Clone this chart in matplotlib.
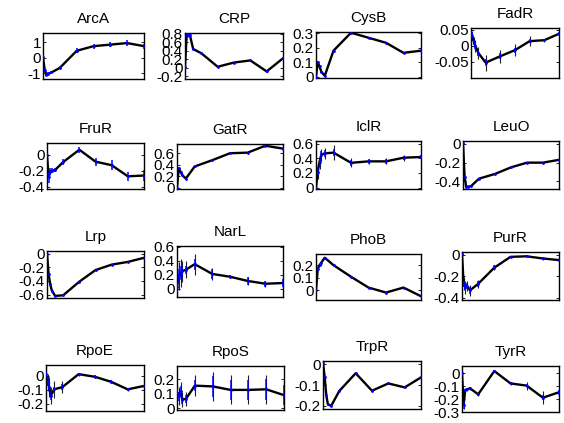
import numpy as np
import matplotlib.pyplot as plt

plt.rcParams['font.family'] = ['Liberation Sans', 'DejaVu Sans']

# time points (minutes)
times = [0, 1, 2, 3, 5, 10, 20, 30, 40, 50, 60]

names = ['ArcA', 'CRP', 'CysB', 'FadR', 'FruR', 'GatR', 'IclR', 'LeuO',
         'Lrp', 'NarL', 'PhoB', 'PurR', 'RpoE', 'RpoS', 'TrpR', 'TyrR']

# mean activity profiles
arcA = [0.05, -0.8, -1.1, -1.05, -0.95, -0.65, 0.45, 0.75, 0.85, 0.95, 0.75]
crp = [0.02, 0.76, 0.78, 0.77, 0.44, 0.34, 0.02, 0.12, 0.17, -0.09, 0.22]
cysB = [0.0, 0.1, 0.07, 0.035, 0.005, 0.18, 0.305, 0.27, 0.235, 0.165, 0.18]
fadR = [0.043, 0.03, 0.012, 0.0, -0.022, -0.052, -0.032, -0.013, 0.015, 0.018, 0.038]
fruR = [0.0, -0.28, -0.21, -0.2, -0.19, -0.09, 0.065, -0.085, -0.13, -0.27, -0.26]
gatR = [0.0, 0.34, 0.28, 0.22, 0.16, 0.37, 0.48, 0.6, 0.61, 0.73, 0.68]
iclR = [0.0, 0.22, 0.35, 0.45, 0.47, 0.48, 0.34, 0.36, 0.36, 0.41, 0.42]
leuO = [0.01, -0.35, -0.46, -0.455, -0.45, -0.37, -0.32, -0.25, -0.2, -0.2, -0.17]
lrp = [0.0, -0.3, -0.45, -0.54, -0.62, -0.61, -0.41, -0.24, -0.16, -0.12, -0.06]
narL = [0.02, 0.18, 0.22, 0.25, 0.27, 0.35, 0.21, 0.17, 0.11, 0.07, 0.08]
phoB = [0.0, 0.17, 0.2, 0.22, 0.26, 0.2, 0.107, 0.02, -0.02, 0.02, -0.05]
purR = [0.01, -0.27, -0.3, -0.29, -0.33, -0.27, -0.12, -0.02, -0.015, -0.035, -0.05]
rpoE = [0.01, -0.045, -0.08, -0.14, -0.096, -0.08, 0.012, -0.007, -0.043, -0.096, -0.072]
rpoS = [0.107, 0.083, 0.12, 0.06, 0.064, 0.155, 0.15, 0.126, 0.126, 0.13, 0.09]
trpR = [0.008, -0.06, -0.148, -0.193, -0.2, -0.128, -0.043, -0.127, -0.092, -0.111, -0.063]
tyrR = [0.0, -0.245, -0.13, -0.125, -0.118, -0.164, 0.015, -0.08, -0.097, -0.19, -0.148]

# inner (blue) error bars
arcA_err = [0.1, 0.15, 0.1, 0.1, 0.1, 0.1, 0.15, 0.17, 0.17, 0.17, 0.17]
crp_err = [0.02, 0.03, 0.03, 0.02, 0.02, 0.02, 0.02, 0.02, 0.02, 0.03, 0.03]
cysB_err = [0.003] * 11
fadR_err = [0.005, 0.008, 0.008, 0.01, 0.01, 0.01, 0.01, 0.008, 0.006, 0.004, 0.005]
fruR_err = [0.02, 0.07, 0.04, 0.03, 0.03, 0.04, 0.04, 0.05, 0.06, 0.06, 0.07]
gatR_err = [0.01] * 11
iclR_err = [0.01, 0.05, 0.05, 0.05, 0.05, 0.05, 0.04, 0.03, 0.03, 0.03, 0.03]
leuO_err = [0.005] * 11
lrp_err = [0.005] * 11
narL_err = [0.08, 0.1, 0.1, 0.08, 0.06, 0.08, 0.07, 0.02, 0.06, 0.04, 0.06]
phoB_err = [0.005] * 11
purR_err = [0.01, 0.03, 0.03, 0.03, 0.03, 0.03, 0.02, 0.01, 0.01, 0.01, 0.01]
rpoE_err = [0.02, 0.03, 0.03, 0.03, 0.02, 0.02, 0.01, 0.01, 0.01, 0.01, 0.01]
rpoS_err = [0.03, 0.03, 0.03, 0.03, 0.03, 0.04, 0.07, 0.07, 0.07, 0.07, 0.07]
trpR_err = [0.003] * 11
tyrR_err = [0.01, 0.03, 0.01, 0.01, 0.01, 0.01, 0.01, 0.01, 0.01, 0.02, 0.02]

# outer (black) spread
fadR_sd = [0.005, 0.01, 0.015, 0.02, 0.02, 0.025, 0.02, 0.018, 0.015, 0.005, 0.005]
iclR_sd = [0.01, 0.1, 0.1, 0.08, 0.08, 0.1, 0.06, 0.03, 0.04, 0.04, 0.04]
narL_sd = [0.12, 0.2, 0.2, 0.15, 0.12, 0.15, 0.08, 0.02, 0.06, 0.04, 0.06]
purR_sd = [0.01, 0.06, 0.06, 0.05, 0.05, 0.04, 0.02, 0.01, 0.01, 0.01, 0.01]
rpoE_sd = [0.06, 0.06, 0.07, 0.06, 0.06, 0.04, 0.01, 0.01, 0.01, 0.01, 0.01]
rpoS_sd = [0.05, 0.06, 0.06, 0.05, 0.05, 0.07, 0.1, 0.1, 0.1, 0.1, 0.1]
tyrR_sd = [0.01, 0.03, 0.01, 0.01, 0.01, 0.01, 0.01, 0.01, 0.03, 0.05, 0.02]

means = [arcA, crp, cysB, fadR, fruR, gatR, iclR, leuO,
         lrp, narL, phoB, purR, rpoE, rpoS, trpR, tyrR]
errs = [arcA_err, crp_err, cysB_err, fadR_err, fruR_err, gatR_err, iclR_err, leuO_err,
        lrp_err, narL_err, phoB_err, purR_err, rpoE_err, rpoS_err, trpR_err, tyrR_err]
sds = {'FadR': fadR_sd, 'IclR': iclR_sd, 'NarL': narL_sd, 'PurR': purR_sd,
       'RpoE': rpoE_sd, 'RpoS': rpoS_sd, 'TyrR': tyrR_sd}

ylims = [(-1.37, 1.6), (-0.27, 0.82), (-0.01, 0.31), (-0.1, 0.056),
         (-0.43, 0.15), (-0.02, 0.76), (-0.02, 0.64), (-0.48, 0.03),
         (-0.65, 0.04), (-0.12, 0.61), (-0.08, 0.29), (-0.42, 0.025),
         (-0.25, 0.077), (-0.012, 0.29), (-0.215, 0.016), (-0.3, 0.054)]
yticks = [[-1, 0, 1], [-0.2, 0, 0.2, 0.4, 0.6, 0.8], [0, 0.1, 0.2, 0.3], [-0.05, 0, 0.05],
          [-0.4, -0.2, 0], [0, 0.2, 0.4, 0.6], [0, 0.2, 0.4, 0.6], [-0.4, -0.2, 0],
          [-0.6, -0.4, -0.2, 0], [0, 0.2, 0.4, 0.6], [0, 0.1, 0.2], [-0.4, -0.2, 0],
          [-0.2, -0.1, 0], [0, 0.1, 0.2], [-0.2, -0.1, 0], [-0.3, -0.2, -0.1, 0]]

# axes boxes in pixels: left, right, top, bottom
boxes = [(43, 144, 33, 79), (185, 283, 33, 79), (316, 421, 32, 78), (471, 559, 28, 78),
         (47, 144, 143, 189), (177, 283, 144, 189), (316, 421, 141, 189), (463, 559, 141, 189),
         (47, 144, 251, 298), (177, 283, 246, 297), (316, 421, 254, 300), (462, 559, 252, 300),
         (46, 144, 365, 411), (177, 284, 366, 410), (323, 421, 361, 409), (462, 559, 366, 412)]

W, H = 564, 423
fig = plt.figure(figsize=(W / 100, H / 100), dpi=100)

for name, m, e, yl, yt, (l, r, t, b) in zip(names, means, errs, ylims, yticks, boxes):
    ax = fig.add_axes([l / W, 1 - b / H, (r - l) / W, (b - t) / H])
    if name in sds:
        ax.errorbar(times, m, yerr=sds[name], fmt='none', ecolor='#222222',
                    elinewidth=0.8, capsize=0, zorder=1)
    ax.plot(times, m, color='black', lw=1.7, zorder=2)
    ax.errorbar(times, m, yerr=e, fmt='.', color='blue', ms=2, ecolor='blue',
                elinewidth=1.1, capsize=0, zorder=3)
    ax.set_xlim(times[0], times[-1])
    ax.set_ylim(*yl)
    ax.set_yticks(yt)
    ax.set_yticklabels(['%g' % v for v in yt])
    ax.set_xticks([])
    ax.tick_params(axis='y', direction='in', length=2, width=0.6, right=True,
                   labelsize=11, pad=1.5)
    for s in ax.spines.values():
        s.set_linewidth(1.0)
    ax.set_title(name, fontsize=11, pad=7)

fig.savefig('out.png', dpi=100)
